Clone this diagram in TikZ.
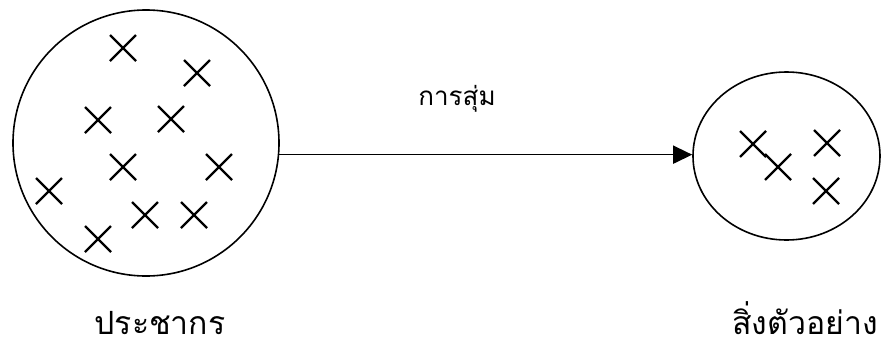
\documentclass[tikz,border=0pt]{standalone}
\usepackage{fontspec}
\newfontfamily\thaifont[Script=Thai]{Loma}
\usetikzlibrary{arrows.meta,positioning,shapes.geometric}

\begin{document}
\begin{tikzpicture}[x=1pt,y=-1pt,every node/.style={font=\thaifont\fontsize{26}{30}\selectfont,anchor=base,inner sep=0pt},
    setshape/.style={draw,line width=1.6pt,anchor=center},
    setname/.style={font=\thaifont\fontsize{32}{36}\selectfont},
    cross/.style={line width=2.4pt},
    sampleto/.style={-{Triangle[length=19pt,width=18pt]},line width=1.6pt}]
  \useasboundingbox (0,0) rectangle (881,346);
  % population and sample
  \node[setshape,circle,minimum size=266pt] (pop) at (146,143) {};
  \node[setshape,ellipse,minimum width=187pt,minimum height=168pt] (samp) at (786.5,156) {};
  % members
  \foreach \x/\y in {123/48,197/73,98/120,171/119,123/167,219/167,
                     49/191,145/215,194/215,98/239,
                     753/144,778/167,827/143,826/191}{
    \draw[cross] (\x-13,\y-13) -- (\x+13,\y+13);
    \draw[cross] (\x-13,\y+13) -- (\x+13,\y-13);
  }
  \draw[sampleto] (pop.-5) -- (pop.-5 -| samp.west);
  \node (draw) at (457,105) {การสุ่ม};
  \node[setname] (popname) at (160,334) {ประชากร};
  \node[setname] (sampname) at (805,334) {สิ่งตัวอย่าง};
\end{tikzpicture}
\end{document}
